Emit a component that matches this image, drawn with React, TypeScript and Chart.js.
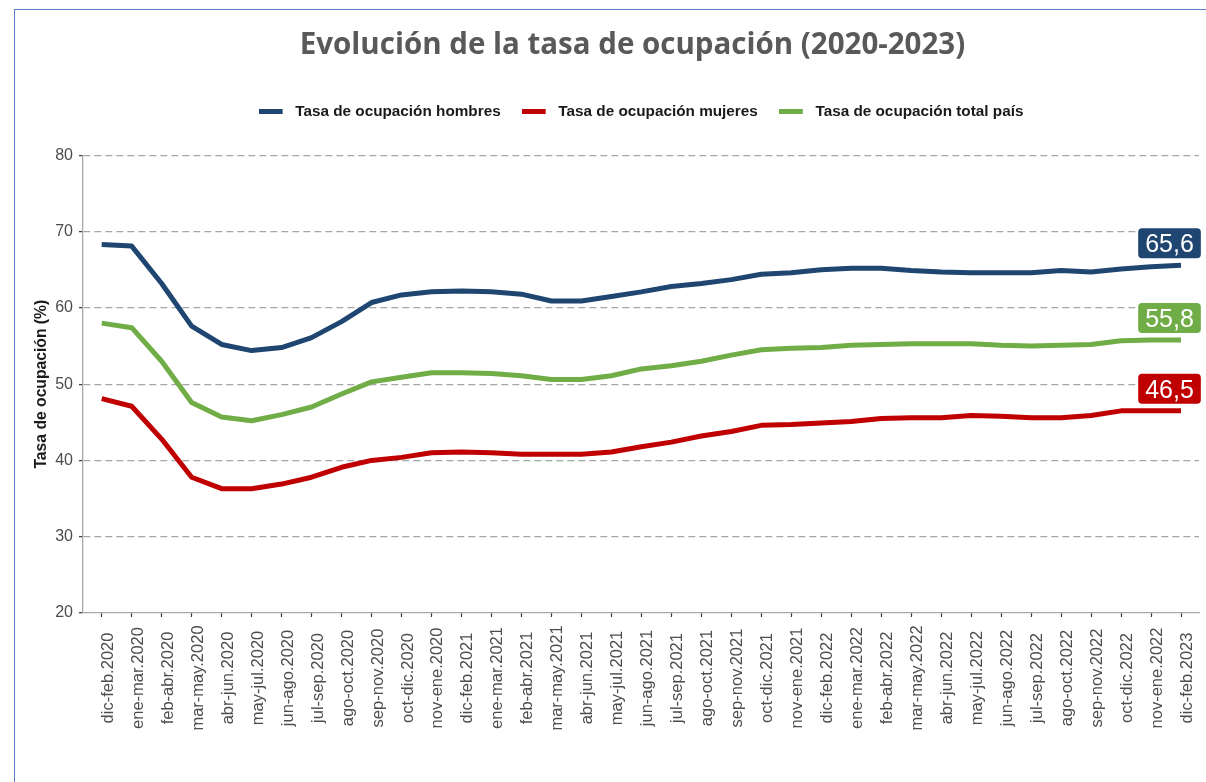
import React, { useEffect, useRef } from 'react';
import { Chart, registerables } from 'chart.js';

Chart.register(...registerables);

const categories = [
  'dic-feb.2020', 'ene-mar.2020', 'feb-abr.2020', 'mar-may.2020', 'abr-jun.2020', 'may-jul.2020',
  'jun-ago.2020', 'jul-sep.2020', 'ago-oct.2020', 'sep-nov.2020', 'oct-dic.2020', 'nov-ene.2020',
  'dic-feb.2021', 'ene-mar.2021', 'feb-abr.2021', 'mar-may.2021', 'abr-jun.2021', 'may-jul.2021',
  'jun-ago.2021', 'jul-sep.2021', 'ago-oct.2021', 'sep-nov.2021', 'oct-dic.2021', 'nov-ene.2021',
  'dic-feb.2022', 'ene-mar.2022', 'feb-abr.2022', 'mar-may.2022', 'abr-jun.2022', 'may-jul.2022',
  'jun-ago.2022', 'jul-sep.2022', 'ago-oct.2022', 'sep-nov.2022', 'oct-dic.2022', 'nov-ene.2022',
  'dic-feb.2023',
];

const hombres = [
  68.3, 68.1, 63.2, 57.6, 55.2, 54.4, 54.8, 56.1, 58.2, 60.7, 61.7, 62.1, 62.2, 62.1, 61.8, 60.9,
  60.9, 61.5, 62.1, 62.8, 63.2, 63.7, 64.4, 64.6, 65.0, 65.2, 65.2, 64.9, 64.7, 64.6, 64.6, 64.6,
  64.9, 64.7, 65.1, 65.4, 65.6,
];

const mujeres = [
  48.1, 47.1, 42.8, 37.8, 36.3, 36.3, 36.9, 37.8, 39.1, 40.0, 40.4, 41.0, 41.1, 41.0, 40.8, 40.8,
  40.8, 41.1, 41.8, 42.4, 43.2, 43.8, 44.6, 44.7, 44.9, 45.1, 45.5, 45.6, 45.6, 45.9, 45.8, 45.6,
  45.6, 45.9, 46.5, 46.5, 46.5,
];

const totalPais = [
  58.0, 57.4, 53.0, 47.6, 45.7, 45.2, 46.0, 47.0, 48.7, 50.3, 50.9, 51.5, 51.5, 51.4, 51.1, 50.6,
  50.6, 51.1, 52.0, 52.4, 53.0, 53.8, 54.5, 54.7, 54.8, 55.1, 55.2, 55.3, 55.3, 55.3, 55.1, 55.0,
  55.1, 55.2, 55.7, 55.8, 55.8,
];

const seriesNames = [
  'Tasa de ocupación hombres',
  'Tasa de ocupación mujeres',
  'Tasa de ocupación total país',
];
const seriesValues = [hombres, mujeres, totalPais];
const seriesColors = ['#1f4571', '#c00000', '#70ad47'];

const TITLE = 'Evolución de la tasa de ocupación (2020-2023)';
const Y_TITLE = 'Tasa de ocupación (%)';
const SANS = '"Liberation Sans", Arial, sans-serif';

function legendSwatch(color: string): HTMLCanvasElement {
  const c = document.createElement('canvas');
  c.width = 29;
  c.height = 5;
  const g = c.getContext('2d')!;
  g.fillStyle = color;
  g.fillRect(0, 0, 24, 5);
  return c;
}

const xLabelsPlugin = {
  id: 'xLabels',
  afterDraw(chart: any) {
    const { ctx, chartArea } = chart;
    const xs = chart.scales.x;
    ctx.save();
    ctx.font = `16.5px ${SANS}`;
    ctx.fillStyle = '#4d4d4d';
    ctx.textAlign = 'center';
    ctx.textBaseline = 'alphabetic';
    categories.forEach((c, i) => {
      const px = xs.getPixelForValue(i);
      ctx.save();
      ctx.translate(px + 11, chartArea.bottom + 65);
      ctx.rotate(-Math.PI / 2);
      ctx.fillText(c, 0, 0);
      ctx.restore();
    });
    ctx.restore();
  },
};

const endLabelsPlugin = {
  id: 'endLabels',
  afterDatasetsDraw(chart: any) {
    const { ctx } = chart;
    ctx.save();
    chart.data.datasets.forEach((ds: any, i: number) => {
      const meta = chart.getDatasetMeta(i);
      const pt = meta.data[meta.data.length - 1];
      const v = ds.data[ds.data.length - 1].y as number;
      const text = v.toFixed(1).replace('.', ',');
      ctx.font = `25px ${SANS}`;
      const w = ctx.measureText(text).width + 14;
      const h = 30;
      const cx = pt.x - 11.5;
      const cy = pt.y - 22;
      ctx.beginPath();
      (ctx as any).roundRect(cx - w / 2, cy - h / 2, w, h, 4);
      ctx.fillStyle = ds.borderColor;
      ctx.fill();
      ctx.fillStyle = '#ffffff';
      ctx.textAlign = 'center';
      ctx.textBaseline = 'middle';
      ctx.fillText(text, cx, cy + 2);
    });
    ctx.restore();
  },
};

const titleShiftPlugin = {
  id: 'titleShift',
  afterLayout(chart: any) {
    const t = chart.titleBlock;
    if (t) {
      t.left = 0;
      t.right = 1265;
    }
  },
};

export default function App() {
  const ref = useRef<HTMLCanvasElement>(null);

  useEffect(() => {
    if (!ref.current) return;
    const datasets = seriesNames.map((name, s) => ({
      label: name,
      data: seriesValues[s].map((v, i) => ({ x: i, y: v })),
      borderColor: seriesColors[s],
      backgroundColor: seriesColors[s],
      borderWidth: 5,
      tension: 0,
      fill: false,
      pointRadius: 0,
      pointHoverRadius: 0,
      pointStyle: legendSwatch(seriesColors[s]),
      borderJoinStyle: 'round' as const,
    }));

    const chart = new Chart(ref.current, {
      type: 'line',
      data: { datasets },
      plugins: [xLabelsPlugin, endLabelsPlugin, titleShiftPlugin],
      options: {
        animation: false,
        responsive: false,
        maintainAspectRatio: false,
        events: [],
        layout: { padding: { left: 0, right: 7, top: 0, bottom: 0 } },
        plugins: {
          title: {
            display: true,
            text: TITLE,
            color: '#595959',
            font: { family: '"Open Sans", sans-serif', size: 29.5, weight: 'bold' },
            padding: { top: 27.7, bottom: 20.1 },
            weight: 2000,
          },
          subtitle: {
            display: true,
            text: '',
            font: { size: 1 },
            padding: { top: 0, bottom: 24.6 },
            fullSize: false,
            weight: 1500,
          },
          legend: {
            display: true,
            position: 'top',
            fullSize: false,
            weight: 1600,
            labels: {
              usePointStyle: true,
              pointStyleWidth: 29,
              padding: 21,
              color: '#1a1a1a',
              font: { family: SANS, size: 15.3, weight: 'bold' },
            },
          },
          tooltip: { enabled: false },
        },
        scales: {
          x: {
            type: 'linear',
            min: -0.624,
            max: 36.6,
            afterFit(scale: any) {
              scale.height = 169;
            },
            ticks: { display: false, stepSize: 1, includeBounds: false },
            grid: {
              drawOnChartArea: false,
              drawTicks: true,
              tickLength: 4,
              tickColor: '#333333',
              tickWidth: 1.2,
            },
            border: { display: true, color: '#a8a8a8', width: 1.3 },
          },
          y: {
            min: 20,
            max: 80,
            afterFit(scale: any) {
              scale.width = 83;
            },
            ticks: {
              stepSize: 10,
              padding: 6,
              color: '#4d4d4d',
              font: { family: SANS, size: 16 },
            },
            grid: {
              color: (c: any) => (c.tick && c.tick.value === 20 ? 'rgba(0,0,0,0)' : '#a6a6a6'),
              lineWidth: 1.3,
              drawTicks: true,
              tickLength: 4,
              tickColor: '#333333',
              tickWidth: 1.2,
            },
            border: { display: true, color: '#a8a8a8', width: 1.3, dash: [7, 4] },
            title: {
              display: true,
              text: Y_TITLE,
              color: '#1a1a1a',
              font: { family: SANS, size: 15.7, weight: 'bold' },
              padding: { top: 32.6, bottom: 0 },
            },
          },
        },
      } as any,
    });
    return () => chart.destroy();
  }, []);

  return (
    <div
      style={{
        position: 'fixed',
        left: 0,
        top: 0,
        width: 1206,
        height: 782,
        overflow: 'hidden',
        background: '#ffffff',
      }}
    >
      <div
        style={{
          position: 'absolute',
          left: 14,
          top: 9,
          width: 1250,
          height: 850,
          border: '1px solid #5b7fc7',
        }}
      />
      <canvas
        ref={ref}
        width={1206}
        height={782}
        style={{ position: 'absolute', left: 0, top: 0, width: 1206, height: 782 }}
      />
    </div>
  );
}
